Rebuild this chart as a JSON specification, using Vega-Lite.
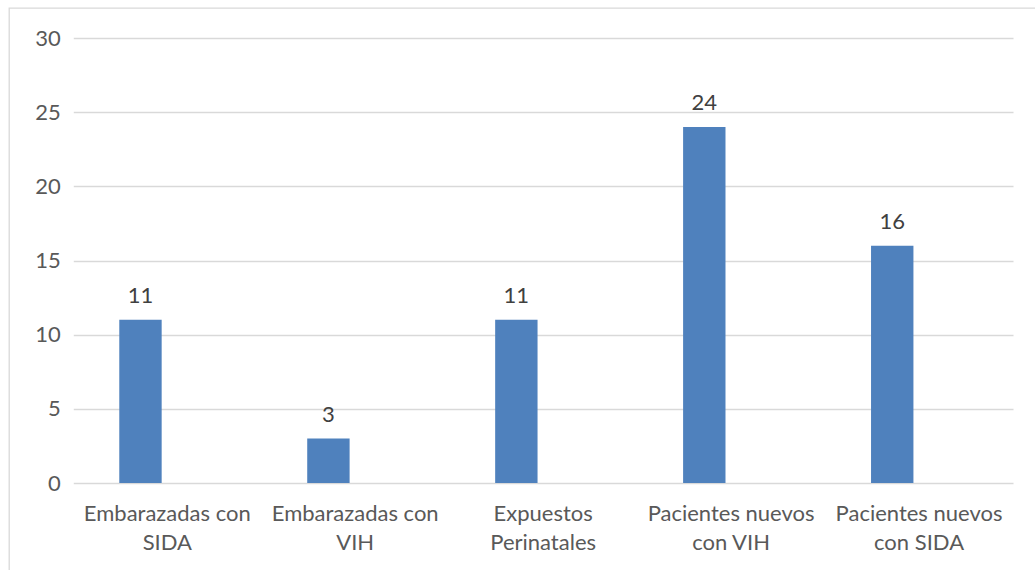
{
  "$schema": "https://vega.github.io/schema/vega-lite/v6.json",
  "autosize": "none",
  "padding": {"left": 9, "top": 8, "right": 0, "bottom": 0},
  "width": 1030,
  "height": 570,
  "background": "white",
  "config": {
    "view": {"stroke": "#D9D9D9", "strokeWidth": 1.3},
    "font": "Lato"
  },
  "data": {
    "values": [
      {"categoria": "Embarazadas con SIDA", "serie": "Serie 1", "valor": 11},
      {"categoria": "Embarazadas con VIH", "serie": "Serie 1", "valor": 3},
      {"categoria": "Expuestos Perinatales", "serie": "Serie 1", "valor": 11},
      {"categoria": "Pacientes nuevos con VIH", "serie": "Serie 1", "valor": 24},
      {"categoria": "Pacientes nuevos con SIDA", "serie": "Serie 1", "valor": 16}
    ]
  },
  "encoding": {
    "x": {
      "field": "categoria",
      "type": "nominal",
      "sort": null,
      "scale": {"range": [64.3, 1004], "paddingInner": 0, "paddingOuter": 0},
      "axis": {
        "title": null,
        "orient": "bottom",
        "offset": -95,
        "domain": false,
        "ticks": false,
        "labelAngle": 0,
        "labelFont": "Lato",
        "labelFontSize": 22,
        "labelColor": "#595959",
        "labelPadding": 20,
        "labelLineHeight": 29,
        "labelBaseline": "top",
        "labelExpr": "datum.value == 'Embarazadas con SIDA' ? ['Embarazadas con','SIDA'] : datum.value == 'Embarazadas con VIH' ? ['Embarazadas con','VIH'] : datum.value == 'Expuestos Perinatales' ? ['Expuestos','Perinatales'] : datum.value == 'Pacientes nuevos con VIH' ? ['Pacientes nuevos','con VIH'] : ['Pacientes nuevos','con SIDA']"
      }
    },
    "xOffset": {
      "field": "serie",
      "type": "nominal",
      "scale": {"domain": ["Serie 1", "Serie 2"], "paddingInner": 0.209, "paddingOuter": 0.858}
    },
    "y": {
      "field": "valor",
      "type": "quantitative",
      "scale": {"domain": [0, 30], "range": [475, 30], "nice": false},
      "axis": {
        "title": null,
        "offset": -64.3,
        "values": [0, 5, 10, 15, 20, 25, 30],
        "domain": false,
        "ticks": false,
        "grid": true,
        "gridColor": "#D9D9D9",
        "gridWidth": 1.3,
        "labelFont": "Lato",
        "labelFontSize": 22,
        "labelColor": "#595959",
        "labelPadding": 13
      }
    }
  },
  "layer": [
    {"mark": {"type": "bar", "color": "#4F81BD"}},
    {
      "mark": {"type": "text", "baseline": "alphabetic", "dy": -17, "fontSize": 22, "font": "Lato", "color": "#404040"},
      "encoding": {"text": {"field": "valor", "type": "quantitative"}}
    }
  ]
}
